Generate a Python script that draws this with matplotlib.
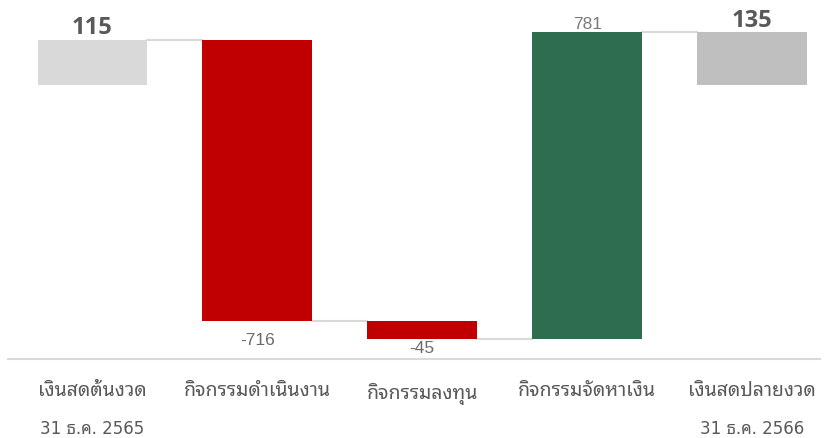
import matplotlib
matplotlib.use("Agg")
import matplotlib.pyplot as plt
import numpy as np

categories = ["เงินสดต้นงวด", "กิจกรรมดำเนินงาน", "กิจกรรมลงทุน", "กิจกรรมจัดหาเงิน", "เงินสดปลายงวด"]
values = [115, -716, -45, 781, 135]
is_total = [True, False, False, False, True]
sub_labels = ["31 ธ.ค. 2565", "", "", "", "31 ธ.ค. 2566"]
colors = ["#d9d9d9", "#c00000", "#c00000", "#2e6e4f", "#bfbfbf"]

thai = ["Liberation Sans", "Noto Sans Thai Looped"]

# waterfall bottoms / tops
bottoms, tops = [], []
level = 0
for v, tot in zip(values, is_total):
    if tot:
        bottoms.append(0)
        tops.append(v)
        level = v
    else:
        bottoms.append(level)
        level += v
        tops.append(level)

fig = plt.figure(figsize=(8.24, 4.39), dpi=100)
ax = fig.add_axes([0.01, 0.18, 0.985, 0.82])
x = np.arange(len(categories))
w = 0.665
heights = [t - b for t, b in zip(tops, bottoms)]
ax.bar(x, heights, bottom=bottoms, width=w, color=colors, edgecolor="none", zorder=2)

# connector lines between bars
for i in range(len(x) - 1):
    ax.plot([x[i] + w / 2, x[i + 1] - w / 2], [tops[i], tops[i]], color="#d9d9d9", lw=1.5, zorder=1)

# value labels
for i, v in enumerate(values):
    if is_total[i]:
        ax.annotate(str(v), (x[i], tops[i]), xytext=(0, 0 if i == 4 else 0.5), textcoords="offset points",
                    ha="center", va="bottom", fontsize=17, fontweight="bold",
                    family="Open Sans", color="#595959")
    elif v > 0:
        ax.annotate(str(v), (x[i], tops[i]), xytext=(0, 0.5), textcoords="offset points",
                    ha="center", va="bottom", fontsize=12.5, family=thai, color="#7a7a7a")
    else:
        ax.annotate(str(v), (x[i], tops[i]), xytext=(0, -8 if i == 1 else -1), textcoords="offset points",
                    ha="center", va="top", fontsize=12.5, family=thai, color="#6b6b6b")

ax.set_xlim(-0.51, 4.41)
ax.set_ylim(-697, 219)
ax.set_xticks(x)
ax.set_xticklabels(categories, family=thai, fontsize=14, color="#595959")
ax.tick_params(axis="x", length=0, pad=16.5)
ax.set_yticks([])
for s in ["top", "left", "right"]:
    ax.spines[s].set_visible(False)
ax.spines["bottom"].set_color("#d9d9d9")
ax.spines["bottom"].set_linewidth(1.5)

for i, s in enumerate(sub_labels):
    if s:
        ax.annotate(s, (x[i], 0), xycoords=("data", "axes fraction"), xytext=(0, -50),
                    textcoords="offset points", ha="center", va="center",
                    fontsize=12, family=["DejaVu Sans", "Noto Sans Thai Looped"], color="#595959")

fig.savefig("out.png")
